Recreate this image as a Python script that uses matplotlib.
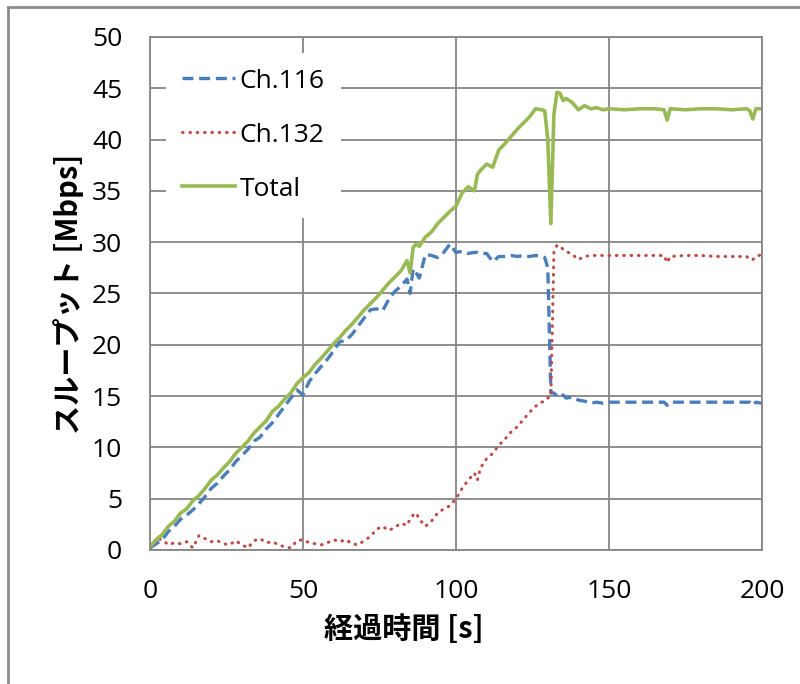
import matplotlib
matplotlib.use('Agg')
import matplotlib.pyplot as plt
from matplotlib.lines import Line2D

plt.rcParams['font.family'] = ['Open Sans', 'Noto Sans CJK JP', 'DejaVu Sans']

# time [s]
t = [0, 2, 4, 6, 8, 10, 12, 14, 16, 18, 20, 22, 24, 26, 28, 30, 32, 34, 36, 38,
     40, 42, 44, 46, 48, 50, 52, 54, 56, 58, 60, 62, 64, 66, 68, 70, 72, 74, 76, 78,
     80, 82, 84, 85, 86, 87, 88, 90, 92, 94, 96, 98, 100, 102, 104, 106, 107, 108,
     110, 112, 114, 116, 118, 120, 122, 124, 126, 128, 129, 130, 131, 132, 133, 134,
     135, 136, 138, 140, 142, 144, 146, 148, 150, 155, 160, 165, 168, 169, 170, 175,
     180, 185, 190, 195, 196, 197, 198, 200]

ch116 = [0.2, 0.6, 1.0, 1.8, 2.3, 3.0, 3.4, 3.9, 4.5, 5.2, 6.0, 6.5, 7.2, 7.8, 8.6, 9.2,
         9.8, 10.6, 11.0, 11.8, 12.4, 13.2, 14.0, 14.8, 15.6, 15.1, 16.4, 17.2, 17.9, 18.6,
         19.4, 20.3, 20.4, 21.0, 21.8, 22.6, 23.4, 23.5, 23.3, 24.4, 25.2, 25.7, 26.4, 25.0,
         27.4, 27.0, 26.5, 28.8, 28.7, 28.5, 29.0, 29.8, 29.0, 29.1, 28.9, 29.0, 29.0, 28.9,
         28.9, 28.1, 28.6, 28.6, 28.7, 28.6, 28.7, 28.6, 28.7, 28.6, 28.5, 27.5, 15.3, 15.3,
         15.0, 14.9, 15.1, 14.8, 14.9, 14.6, 14.5, 14.3, 14.4, 14.3, 14.4, 14.4, 14.4, 14.4,
         14.4, 14.1, 14.4, 14.4, 14.4, 14.4, 14.4, 14.4, 14.4, 14.1, 14.4, 14.3]

ch132 = [0.2, 1.1, 1.0, 0.5, 0.7, 0.6, 0.8, 0.2, 1.4, 1.1, 0.8, 0.9, 0.6, 0.5, 0.9, 0.5,
         0.2, 0.9, 1.1, 0.7, 0.8, 0.5, 0.3, 0.2, 0.9, 1.0, 0.7, 0.6, 0.5, 0.7, 1.0, 0.8,
         1.0, 0.6, 0.5, 0.9, 1.3, 2.0, 2.3, 1.9, 2.2, 2.6, 2.4, 3.0, 3.4, 3.6, 3.0, 2.3,
         2.8, 3.6, 4.0, 4.3, 5.0, 6.0, 6.8, 7.5, 6.8, 8.0, 8.9, 9.4, 10.2, 10.8, 11.5, 12.0,
         12.7, 13.4, 14.0, 14.4, 14.5, 14.8, 15.0, 29.0, 29.7, 29.6, 29.3, 29.1, 28.8, 28.3,
         28.6, 28.7, 28.7, 28.7, 28.7, 28.7, 28.7, 28.7, 28.7, 28.0, 28.6, 28.7, 28.7, 28.6,
         28.6, 28.6, 28.3, 28.3, 28.6, 28.8]

total = [0.3, 1.0, 1.5, 2.3, 2.8, 3.6, 4.0, 4.8, 5.3, 6.0, 6.8, 7.3, 8.0, 8.6, 9.4, 10.0,
         10.6, 11.4, 12.0, 12.6, 13.5, 14.0, 14.7, 15.3, 16.2, 16.8, 17.3, 18.1, 18.7, 19.4,
         20.1, 20.7, 21.4, 22.0, 22.7, 23.4, 24.0, 24.6, 25.3, 26.0, 26.6, 27.2, 28.2, 27.0,
         29.5, 29.8, 29.6, 30.5, 31.0, 31.8, 32.4, 33.0, 33.5, 34.8, 35.4, 35.0, 36.6, 37.0,
         37.6, 37.3, 39.0, 39.6, 40.3, 41.0, 41.6, 42.2, 43.0, 42.9, 42.8, 40.0, 31.8, 42.5,
         44.6, 44.5, 43.8, 44.0, 43.6, 42.9, 43.3, 43.0, 43.1, 42.9, 43.0, 42.9, 43.0, 43.0,
         42.9, 41.9, 43.0, 42.9, 43.0, 43.0, 42.9, 43.0, 42.8, 42.0, 43.0, 43.0]

fig = plt.figure(figsize=(8, 6.84), dpi=100)
ax = fig.add_axes([0.1875, 0.196, 0.765, 0.75])

ax.plot(t, ch116, color='#4A7EBB', lw=2.4, linestyle=(0, (3.3, 1.7)), label='Ch.116')
ax.plot(t, ch132, color='#BE4B48', lw=2.2, linestyle=(0, (0.2, 2.2)),
        dash_capstyle='round', label='Ch.132')
ax.plot(t, total, color='#98B954', lw=2.6, label='Total')

ax.set_xlim(0, 200)
ax.set_ylim(0, 50)
ax.set_xticks(range(0, 201, 50))
ax.set_yticks(range(0, 51, 5))
ax.grid(True, color='#868686', lw=1.3)
ax.set_axisbelow(True)
for s in ax.spines.values():
    s.set_color('#868686')
    s.set_linewidth(1.3)
ax.tick_params(length=0, labelsize=19, pad=20)
ax.tick_params(axis='x', pad=21)

ax.set_xlabel('経過時間 [s]', family=['Noto Sans CJK JP'], fontsize=21,
              fontweight='bold', labelpad=6)
ax.xaxis.set_label_coords(0.415, -0.125)
ax.set_ylabel('スループット [Mbps]', family=['Noto Sans CJK JP'], fontsize=21,
              fontweight='bold', labelpad=6)

leg = ax.legend(loc='upper left', bbox_to_anchor=(0.026, 0.969), borderaxespad=0,
                frameon=True, fontsize=19, handlelength=2.0, handletextpad=0.2,
                labelspacing=1.1, borderpad=0.6)
leg.get_frame().set_facecolor('white')
leg.get_frame().set_edgecolor('none')
leg.get_frame().set_alpha(1)

# grey frame of the original picture
fig.add_artist(Line2D([0.01, 0.01], [0, 0.99], transform=fig.transFigure,
                      color='#8c8c8c', lw=2))
fig.add_artist(Line2D([0.01, 1.0], [0.99, 0.99], transform=fig.transFigure,
                      color='#8c8c8c', lw=2))

fig.savefig('out.png', dpi=100)
